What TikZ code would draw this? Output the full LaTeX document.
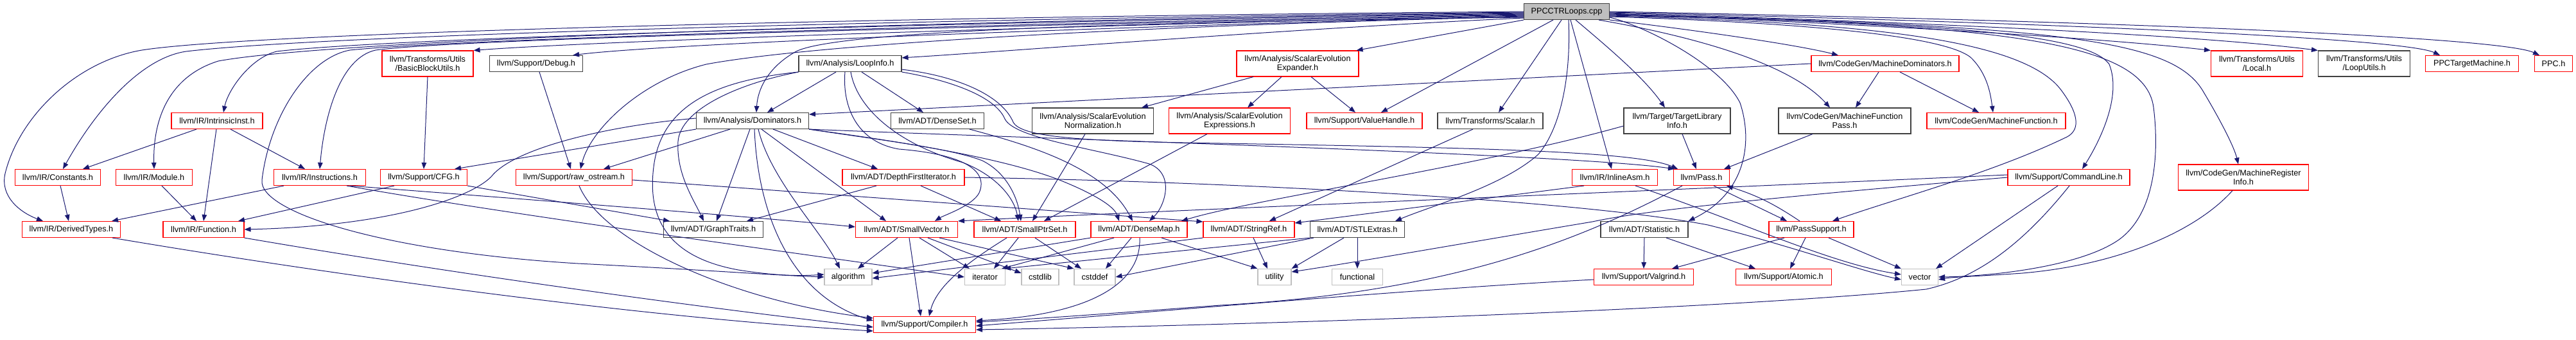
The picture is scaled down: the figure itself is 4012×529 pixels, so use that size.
\documentclass[tikz,border=0pt]{standalone}
\usepackage{fontspec}
\setmainfont{Liberation Sans}
\usetikzlibrary{arrows.meta}
\definecolor{edgeblue}{HTML}{191970}
\definecolor{boxred}{HTML}{FF0000}
\definecolor{boxblack}{HTML}{404040}
\definecolor{boxgray}{HTML}{BFBFBF}
\begin{document}
\begin{tikzpicture}[x=0.5pt,y=-0.5pt,
  nd/.style={rectangle, inner sep=0pt, line width=0.55pt, font=\fontsize{6.35pt}{6.85pt}\selectfont, align=center, fill=white},
  sz/.style 2 args={minimum width=#1*0.5pt, minimum height=#2*0.5pt},
  rbox/.style={nd, draw=boxred},
  bbox/.style={nd, draw=boxblack},
  gbox/.style={nd, draw=boxgray},
  rootbox/.style={nd, draw=boxblack, fill=boxgray},
  edge/.style={draw=edgeblue, line width=0.5pt, -{Triangle[length=5pt,width=3.8pt]}}]
\useasboundingbox (0,0) rectangle (4012,529);

% row A
\node[rootbox, sz={133}{25}] (root) at (2440,18) {PPCCTRLoops.cpp};
% row B
\node[rbox, sz={142}{40}] (bbu) at (666,99) {llvm/Transforms/Utils\\/BasicBlockUtils.h};
\node[bbox, sz={145}{25}] (dbg) at (835,99) {llvm/Support/Debug.h};
\node[bbox, sz={160}{25}] (li) at (1324,99) {llvm/Analysis/LoopInfo.h};
\node[rbox, sz={190}{40}] (sexp) at (2021,99) {llvm/Analysis/ScalarEvolution\\Expander.h};
\node[rbox, sz={230}{25}] (mdom) at (2936,99) {llvm/CodeGen/MachineDominators.h};
\node[rbox, sz={143}{40}] (local) at (3515,99) {llvm/Transforms/Utils\\/Local.h};
\node[bbox, sz={143}{40}] (lutil) at (3682,99) {llvm/Transforms/Utils\\/LoopUtils.h};
\node[rbox, sz={145}{25}] (ppctm) at (3850,99) {PPCTargetMachine.h};
\node[rbox, sz={59}{25}] (ppc) at (3977,99) {PPC.h};
% row C
\node[rbox, sz={142}{25}] (ii) at (338,188) {llvm/IR/IntrinsicInst.h};
\node[bbox, sz={175}{25}] (dom) at (1172,188) {llvm/Analysis/Dominators.h};
\node[bbox, sz={145}{25}] (dset) at (1460,188) {llvm/ADT/DenseSet.h};
\node[bbox, sz={189}{40}] (senorm) at (1702,188) {llvm/Analysis/ScalarEvolution\\Normalization.h};
\node[rbox, sz={189}{40}] (seexpr) at (1915,188) {llvm/Analysis/ScalarEvolution\\Expressions.h};
\node[rbox, sz={180}{25}] (vh) at (2125,188) {llvm/Support/ValueHandle.h};
\node[bbox, sz={164}{25}] (scalar) at (2321,188) {llvm/Transforms/Scalar.h};
\node[bbox, sz={166}{40}] (tli) at (2612,188) {llvm/Target/TargetLibrary\\Info.h};
\node[bbox, sz={206}{40}] (mfp) at (2873,188) {llvm/CodeGen/MachineFunction\\Pass.h};
\node[rbox, sz={216}{25}] (mf) at (3109,188) {llvm/CodeGen/MachineFunction.h};
% row D
\node[rbox, sz={133}{25}] (const) at (90,276) {llvm/IR/Constants.h};
\node[rbox, sz={119}{25}] (mod) at (240,276) {llvm/IR/Module.h};
\node[rbox, sz={143}{25}] (instr) at (498,276) {llvm/IR/Instructions.h};
\node[rbox, sz={135}{25}] (cfg) at (660,276) {llvm/Support/CFG.h};
\node[rbox, sz={181}{25}] (ros) at (894,276) {llvm/Support/raw\_ostream.h};
\node[rbox, sz={190}{25}] (dfi) at (1407,276) {llvm/ADT/DepthFirstIterator.h};
\node[rbox, sz={133}{25}] (iasm) at (2515,276) {llvm/IR/InlineAsm.h};
\node[rbox, sz={87}{25}] (pass) at (2650,276) {llvm/Pass.h};
\node[rbox, sz={190}{25}] (cl) at (3222,276) {llvm/Support/CommandLine.h};
\node[rbox, sz={203}{40}] (mri) at (3494,276) {llvm/CodeGen/MachineRegister\\Info.h};
% row E
\node[rbox, sz={153}{25}] (dt) at (111,357) {llvm/IR/DerivedTypes.h};
\node[rbox, sz={126}{25}] (fn) at (317,357) {llvm/IR/Function.h};
\node[bbox, sz={155}{25}] (gt) at (1111,357) {llvm/ADT/GraphTraits.h};
\node[rbox, sz={159}{25}] (sv) at (1412,357) {llvm/ADT/SmallVector.h};
\node[rbox, sz={158}{25}] (sps) at (1596,357) {llvm/ADT/SmallPtrSet.h};
\node[rbox, sz={150}{25}] (dm) at (1774,357) {llvm/ADT/DenseMap.h};
\node[rbox, sz={142}{25}] (sr) at (1945,357) {llvm/ADT/StringRef.h};
\node[bbox, sz={147}{25}] (stl) at (2114,357) {llvm/ADT/STLExtras.h};
\node[bbox, sz={136}{25}] (stat) at (2561,357) {llvm/ADT/Statistic.h};
\node[rbox, sz={132}{25}] (ps) at (2821,357) {llvm/PassSupport.h};
% row F
\node[gbox, sz={74}{25}] (alg) at (1321,431) {algorithm};
\node[gbox, sz={63}{25}] (iter) at (1534,431) {iterator};
\node[gbox, sz={58}{25}] (cstdlib) at (1620,431) {cstdlib};
\node[gbox, sz={64}{25}] (cstddef) at (1705,431) {cstddef};
\node[gbox, sz={52}{25}] (util) at (1985,431) {utility};
\node[gbox, sz={79}{25}] (func) at (2114,431) {functional};
\node[rbox, sz={155}{25}] (valg) at (2560,431) {llvm/Support/Valgrind.h};
\node[rbox, sz={149}{25}] (atom) at (2778,431) {llvm/Support/Atomic.h};
\node[gbox, sz={57}{25}] (vec) at (2990,431) {vector};
% row G
\node[rbox, sz={159}{25}] (comp) at (1440,505) {llvm/Support/Compiler.h};

% ---- root, left fan
\draw[edge] (root.west) .. controls (1400,26) and (400,50) .. (221,78) .. controls (120,95) and (30,180) .. (8,270) .. controls (0,305) and (30,330) .. ([xshift=-22pt]dt.north);
\draw[edge] ([yshift=-0.5pt]root.west) .. controls (1400,30) and (500,55) .. (290,80) .. controls (220,90) and (150,170) .. ([xshift=4pt]const.north);
\draw[edge] ([yshift=-1pt]root.west) .. controls (1400,33) and (520,62) .. (340,95) .. controls (260,120) and (238,190) .. (mod.north);
\draw[edge] ([yshift=-1.5pt]root.west) .. controls (1400,36) and (600,60) .. (431,80) .. controls (390,90) and (355,140) .. ([xshift=5pt]ii.north);
\draw[edge] ([yshift=-2pt]root.west) .. controls (1400,40) and (700,62) .. (545,78) .. controls (480,90) and (420,180) .. (408,280) .. controls (402,330) and (600,392) .. (900,410) .. controls (1100,420) and (1200,428) .. (alg.west);
\draw[edge] ([yshift=-2.5pt]root.west) .. controls (1400,43) and (700,62) .. (585,78) .. controls (530,90) and (505,180) .. (instr.north);
\draw[edge] ([yshift=-3pt]root.west) .. controls (1500,44) and (900,66) .. (bbu.north east);
\draw[edge] ([yshift=-3.5pt]root.west) .. controls (1500,48) and (1000,72) .. ([xshift=-8pt]dbg.north east);
\draw[edge] ([yshift=-4pt]root.west) .. controls (1700,42) and (1250,72) .. (1100,100) .. controls (1000,125) and (920,200) .. ([xshift=5pt]ros.north);
\draw[edge] ([yshift=-4.5pt]root.west) .. controls (1700,35) and (1300,50) .. (1240,80) .. controls (1195,105) and (1180,140) .. ([xshift=3pt]dom.north);
\draw[edge] ([yshift=-5pt]root.west) .. controls (2000,45) and (1600,78) .. ([yshift=-2pt]li.north east);
% ---- root, bottom
\draw[edge] (root.south west) -- ([xshift=-2pt]sexp.north east);
\draw[edge] ([xshift=-10.5pt]root.south) -- ([xshift=13pt]vh.north);
\draw[edge] ([xshift=-4pt]root.south) -- ([xshift=6.5pt]scalar.north);
\draw[edge] ([xshift=1.5pt]root.south) .. controls (2447,120) and (2430,200) .. (2396,240) .. controls (2340,290) and (2230,320) .. ([xshift=29.5pt]stl.north);
\draw[edge] ([xshift=3pt]root.south) -- ([xshift=-2.5pt]iasm.north);
\draw[edge] ([xshift=7pt]root.south) .. controls (2500,70) and (2560,120) .. ([xshift=-9.5pt]tli.north);
\draw[edge] ([xshift=-8.5pt]root.south east) .. controls (2600,50) and (2780,90) .. ([xshift=-11.5pt]mfp.north);
\draw[edge] (root.south east) .. controls (2650,48) and (2800,70) .. ([xshift=-36.5pt]mdom.north);
% ---- root, right fan
\draw[edge] ([yshift=-4.5pt]root.east) .. controls (2560,40) and (2680,100) .. (2710,160) .. controls (2730,220) and (2720,300) .. (stat.north east);
\draw[edge] ([yshift=-4pt]root.east) .. controls (2800,35) and (3030,55) .. (3070,90) .. controls (3095,115) and (3100,145) .. ([xshift=-2.5pt]mf.north);
\draw[edge] ([yshift=-3.5pt]root.east) .. controls (2900,35) and (3150,60) .. (3210,140) .. controls (3240,180) and (3240,205) .. (3215,215) .. controls (3100,270) and (2950,310) .. ([xshift=16.5pt]ps.north);
\draw[edge] ([yshift=-3pt]root.east) .. controls (3000,35) and (3250,50) .. (3285,100) .. controls (3305,150) and (3270,220) .. ([xshift=10.5pt]cl.north);
\draw[edge] ([yshift=-2.5pt]root.east) .. controls (3100,38) and (3340,60) .. (3354,167) .. controls (3362,230) and (3360,330) .. (3300,373) .. controls (3240,415) and (3100,430) .. (vec.east);
\draw[edge] ([yshift=-2pt]root.east) .. controls (3200,40) and (3380,60) .. (3430,140) .. controls (3460,190) and (3480,230) .. ([xshift=-4pt]mri.north);
\draw[edge] ([yshift=-1.5pt]root.east) .. controls (3000,42) and (3300,62) .. (local.north west);
\draw[edge] ([yshift=-1pt]root.east) .. controls (3100,38) and (3450,58) .. (lutil.north west);
\draw[edge] ([yshift=-0.5pt]root.east) .. controls (3300,38) and (3750,62) .. ([xshift=-25pt]ppctm.north);
\draw[edge] (root.east) .. controls (3400,35) and (3900,60) .. ([xshift=-11pt]ppc.north);

% ---- second level
\draw[edge] (bbu.south) -- (cfg.north);
\draw[edge] ([xshift=2.5pt]dbg.south) -- ([xshift=-2.5pt]ros.north);
\draw[edge] ([xshift=-11pt]li.south) -- ([xshift=11.5pt]dom.north);
\draw[edge] ([xshift=9pt]li.south) -- ([xshift=-11pt]dset.north);
\draw[edge] (li.south west) .. controls (1150,130) and (1060,170) .. (1056,220) .. controls (1053,270) and (1080,310) .. ([xshift=-7.5pt]gt.north);
\draw[edge] (li.south west) .. controls (1120,125) and (1030,160) .. (1018,260) .. controls (1008,340) and (1040,400) .. (1150,420) .. controls (1200,428) and (1240,430) .. ([yshift=2pt]alg.west);
\draw[edge] ([xshift=-4pt]li.south) .. controls (1312,160) and (1330,220) .. (1400,232) .. controls (1500,240) and (1540,265) .. (1525,300) .. controls (1515,320) and (1470,335) .. ([xshift=22pt]sv.north);
\draw[edge] ([xshift=0.5pt]li.south) .. controls (1335,170) and (1400,225) .. (1500,253) .. controls (1555,275) and (1580,310) .. ([xshift=-5pt]sps.north);
\draw[edge] (li.south east) .. controls (1480,125) and (1550,150) .. (1565,185) .. controls (1580,215) and (1700,230) .. (1790,255) .. controls (1830,270) and (1815,320) .. ([xshift=8pt]dm.north);
\draw[edge] ([yshift=2pt]li.south east) .. controls (1490,118) and (1560,148) .. (1578,190) .. controls (1590,215) and (1700,220) .. (1900,223) .. controls (2300,230) and (2550,235) .. ([xshift=-18.5pt]pass.north);
\draw[edge] ([xshift=25pt]dset.south) .. controls (1600,225) and (1720,260) .. ([xshift=-5pt]dm.north);

\draw[edge] (dom.south west) -- ([xshift=24pt]cfg.north);
\draw[edge] ([yshift=2pt]dom.west) .. controls (950,195) and (800,230) .. (765,275) .. controls (730,310) and (600,352) .. (fn.east);
\draw[edge] ([xshift=-17.5pt]dom.south) -- ([xshift=23pt]ros.north);
\draw[edge] ([xshift=-2pt]dom.south) -- ([xshift=2.5pt]gt.north);
\draw[edge] ([xshift=4.5pt]dom.south) .. controls (1200,280) and (1280,360) .. ([xshift=-6.5pt]alg.north);
\draw[edge] ([xshift=1.5pt]dom.south) .. controls (1180,330) and (1230,460) .. ([yshift=3pt]comp.west);
\draw[edge] ([xshift=7pt]dom.south) -- ([xshift=-16pt]sv.north);
\draw[edge] ([xshift=16pt]dom.south) -- ([xshift=-20pt]dfi.north);
\draw[edge] (dom.south east) .. controls (1350,215) and (1480,230) .. (1530,250) .. controls (1570,270) and (1585,310) .. ([xshift=-3pt]sps.north);
\draw[edge] (dom.south east) .. controls (1400,220) and (1560,245) .. (1650,280) .. controls (1700,300) and (1735,320) .. ([xshift=-15.5pt]dm.north);
\draw[edge] (dom.south east) .. controls (1600,215) and (2450,240) .. ([xshift=-21pt]pass.north);

\draw[edge] (mdom.west) -- ([yshift=5pt]dom.east);
\draw[edge] ([xshift=-5pt]mdom.south) -- ([xshift=8.5pt]mfp.north);
\draw[edge] ([xshift=11.5pt]mdom.south) -- ([xshift=-13.5pt]mf.north);
\draw[edge] ([xshift=-34.5pt]sexp.south) -- ([xshift=38pt]senorm.north);
\draw[edge] ([xshift=-12.5pt]sexp.south) -- ([xshift=14pt]seexpr.north);
\draw[edge] ([xshift=10.5pt]sexp.south) -- ([xshift=-7pt]vh.north);
\draw[edge] ([xshift=-6pt]senorm.south) -- ([xshift=6pt]sps.north);
\draw[edge] ([xshift=-17.5pt]seexpr.south) -- ([xshift=15pt]sps.north);
\draw[edge] ([xshift=-13.5pt]scalar.south) -- ([xshift=16pt]sr.north);
\draw[edge] ([yshift=-4pt]tli.west) .. controls (2300,260) and (1950,310) .. ([xshift=33pt]dm.north);
\draw[edge] ([xshift=4pt]tli.south) -- ([xshift=-4pt]pass.north);
\draw[edge] ([xshift=-25pt]mfp.south) -- ([xshift=17.5pt]pass.north);

% ---- third level
\draw[edge] ([xshift=-16pt]ii.south) -- ([xshift=19.5pt]const.north);
\draw[edge] ([xshift=-0.5pt]ii.south) -- (fn.north);
\draw[edge] ([xshift=10.5pt]ii.south) -- ([xshift=-11.5pt]instr.north);
\draw[edge] ([xshift=2pt]const.south) -- ([xshift=-2pt]dt.north);
\draw[edge] ([xshift=6pt]mod.south) -- ([xshift=-5.5pt]fn.north);
\draw[edge] ([xshift=-28pt]instr.south) -- ([xshift=31.5pt]dt.north);
\draw[edge] ([xshift=23.5pt]instr.south) .. controls (750,305) and (1150,335) .. ([yshift=2pt]sv.west);
\draw[edge] ([xshift=21pt]instr.south) .. controls (800,335) and (1250,395) .. (iter.west);
\draw[edge] ([xshift=-23pt]cfg.south) -- ([xshift=27pt]fn.north);
\draw[edge] (cfg.south east) -- ([xshift=-34pt]gt.north);
\draw[edge] ([xshift=4pt]ros.south) .. controls (940,380) and (1150,470) .. ([yshift=5pt]comp.west);
\draw[edge] ([yshift=-2pt]ros.east) -- ([yshift=6pt]sr.west);
\draw[edge] ([xshift=-21pt]dfi.south) -- ([xshift=26pt]gt.north);
\draw[edge] ([xshift=13.5pt]dfi.south) -- ([xshift=-18.5pt]sps.north);
\draw[edge] (dfi.east) .. controls (1900,282) and (2450,310) .. (2660,350) .. controls (2780,380) and (2900,422) .. ([yshift=-2pt]vec.west);
\draw[edge] ([xshift=16pt]iasm.south) .. controls (2700,340) and (2850,410) .. ([yshift=2pt]vec.west);
\draw[edge] ([xshift=-24pt]iasm.south) -- ([yshift=5pt]sr.east);
\draw[edge] ([xshift=9.5pt]pass.south) -- ([xshift=-19pt]ps.north);
\draw[edge] ([xshift=-9pt]ps.north) to[bend right=8] ([xshift=19.5pt]pass.south);
\draw[edge] ([xshift=-15pt]pass.south) .. controls (2450,380) and (2250,455) .. (1900,475) .. controls (1700,490) and (1600,497) .. ([yshift=2pt]comp.east);
\draw[edge] ([xshift=-21pt]ps.south) -- ([xshift=22pt]valg.north);
\draw[edge] ([xshift=-4.5pt]ps.south) -- ([xshift=5pt]atom.north);
\draw[edge] ([xshift=13.5pt]ps.south) -- (vec.north west);
\draw[edge] (stat.south) -- (valg.north);
\draw[edge] ([xshift=17pt]stat.south) -- ([xshift=-22pt]atom.north);
\draw[edge] ([yshift=-2pt]valg.west) .. controls (2200,450) and (1800,485) .. ([yshift=-1pt]comp.east);
\draw[edge] ([yshift=2pt]cl.west) .. controls (2600,296) and (1800,328) .. (sv.north east);
\draw[edge] (cl.west) .. controls (2700,312) and (2550,330) .. (2480,345) .. controls (2300,375) and (2100,410) .. ([yshift=4pt]util.east);
\draw[edge] ([xshift=-8.5pt]cl.south) -- ([xshift=-2pt]vec.north east);
\draw[edge] ([xshift=0.5pt]cl.south) .. controls (3150,380) and (3080,432) .. (3000,450) .. controls (2700,480) and (2000,505) .. ([yshift=-4pt]comp.east);
\draw[edge] ([xshift=-8.5pt]mri.south) .. controls (3420,360) and (3300,412) .. (3150,425) .. controls (3080,430) and (3040,431) .. ([yshift=-2pt]vec.east);

% ---- fourth level
\draw[edge] (stl.south) -- (func.north);
\draw[edge] ([xshift=-10.5pt]stl.south) -- (util.north east);
\draw[edge] (stl.south west) -- ([xshift=-1pt]iter.north east);
\draw[edge] ([xshift=3pt]stl.south west) -- (cstddef.east);
\draw[edge] ([xshift=-7pt]sv.south) -- ([xshift=7.5pt]alg.north);
\draw[edge] ([xshift=2pt]sv.south) -- ([xshift=-3pt]comp.north);
\draw[edge] ([xshift=10pt]sv.south) -- ([xshift=-12pt]iter.north);
\draw[edge] ([xshift=16.5pt]sv.south) -- ([yshift=3pt]cstdlib.west);
\draw[edge] ([xshift=25.5pt]sv.south) -- (cstddef.north west);
\draw[edge] ([xshift=-14pt]sps.south) .. controls (1520,400) and (1460,440) .. ([xshift=3.5pt]comp.north);
\draw[edge] ([xshift=-5pt]sps.south) -- ([xshift=7pt]iter.north);
\draw[edge] ([xshift=8pt]sps.south) -- ([xshift=-10.5pt]cstddef.north);
\draw[edge] (dm.south west) -- ([yshift=3pt]alg.east);
\draw[edge] ([xshift=-19.5pt]dm.south) -- ([xshift=-3pt]iter.north east);
\draw[edge] ([xshift=-6pt]dm.south) -- ([xshift=8.5pt]cstddef.north);
\draw[edge] ([xshift=0.5pt]dm.south) .. controls (1778,440) and (1700,490) .. ([yshift=3pt]comp.east);
\draw[edge] ([xshift=17.5pt]dm.south) -- (util.north west);
\draw[edge] (sr.south west) -- ([yshift=-1pt]alg.east);
\draw[edge] ([xshift=3.5pt]sr.south) -- ([xshift=-5.5pt]util.north);
\draw[edge] (fn.south east) .. controls (700,425) and (1100,480) .. ([yshift=-2pt]comp.west);
\draw[edge] ([xshift=32pt]dt.south) .. controls (500,425) and (1000,495) .. ([yshift=-5pt]comp.west);
\end{tikzpicture}
\end{document}
